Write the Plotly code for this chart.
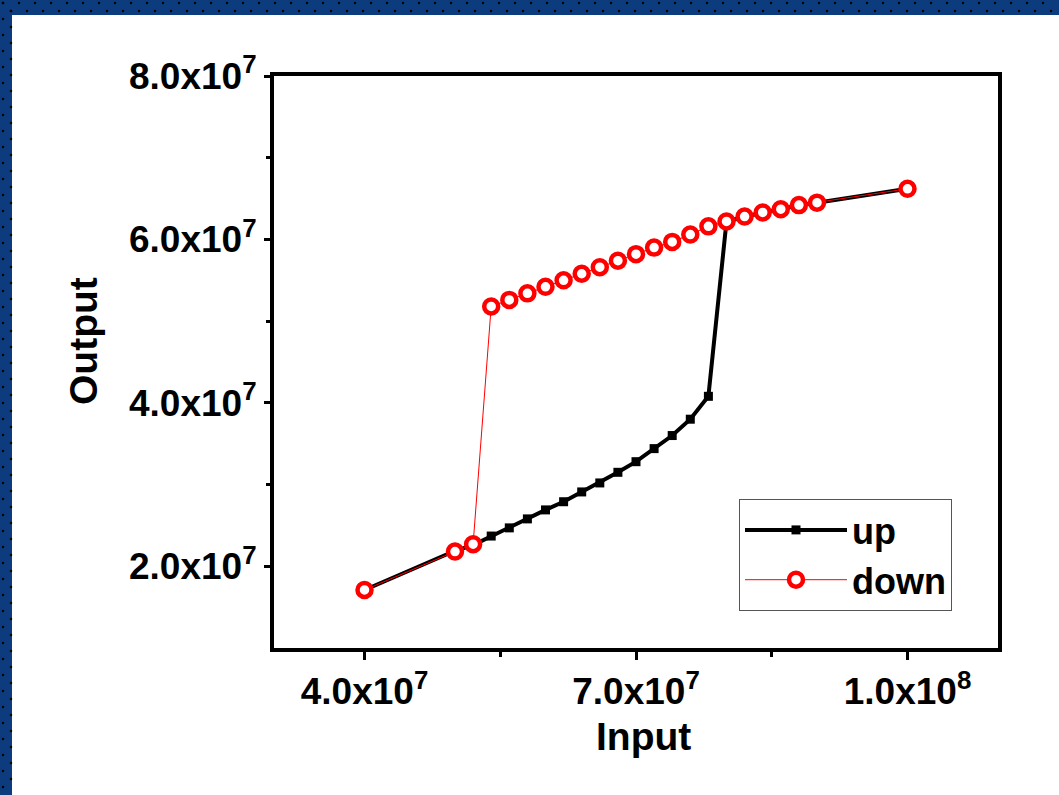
import numpy as np
import plotly.graph_objects as go

# ---------------- data ----------------
up_x = [4.0e7, 5.0e7, 5.2e7, 5.4e7, 5.6e7, 5.8e7, 6.0e7, 6.2e7, 6.4e7, 6.6e7, 6.8e7,
        7.0e7, 7.2e7, 7.4e7, 7.6e7, 7.8e7, 8.0e7, 8.2e7, 8.4e7, 8.6e7, 8.8e7, 9.0e7, 1.0e8]
up_y = [1.71e7, 2.19e7, 2.26e7, 2.37e7, 2.47e7, 2.58e7, 2.69e7, 2.79e7, 2.91e7, 3.02e7, 3.15e7,
        3.28e7, 3.44e7, 3.60e7, 3.80e7, 4.08e7, 6.22e7, 6.28e7, 6.33e7, 6.37e7, 6.42e7, 6.45e7, 6.62e7]

down_x = [1.0e8, 9.0e7, 8.8e7, 8.6e7, 8.4e7, 8.2e7, 8.0e7, 7.8e7, 7.6e7, 7.4e7, 7.2e7, 7.0e7,
          6.8e7, 6.6e7, 6.4e7, 6.2e7, 6.0e7, 5.8e7, 5.6e7, 5.4e7, 5.2e7, 5.0e7, 4.0e7]
down_y = [6.62e7, 6.45e7, 6.42e7, 6.37e7, 6.33e7, 6.28e7, 6.22e7, 6.16e7, 6.06e7, 5.97e7, 5.90e7, 5.82e7,
          5.74e7, 5.66e7, 5.58e7, 5.50e7, 5.42e7, 5.34e7, 5.26e7, 5.18e7, 2.27e7, 2.18e7, 1.71e7]

x_tickvals = [4.0e7, 7.0e7, 1.0e8]
x_ticktext = ["4.0x10<sup>7</sup>", "7.0x10<sup>7</sup>", "1.0x10<sup>8</sup>"]
x_minor = [5.5e7, 8.5e7]
y_tickvals = [2.0e7, 4.0e7, 6.0e7, 8.0e7]
y_ticktext = ["2.0x10<sup>7</sup>", "4.0x10<sup>7</sup>", "6.0x10<sup>7</sup>", "8.0x10<sup>7</sup>"]
y_minor = [3.0e7, 5.0e7, 7.0e7]

x_title = "Input"
y_title = "Output"

# ---------------- figure ----------------
W, H = 1059, 795
FONT = "Liberation Sans, Arial, sans-serif"
BLUE = "#0c3c7d"

fig = go.Figure()

fig.add_trace(go.Scatter(
    x=up_x, y=up_y, name="up", mode="lines+markers",
    line=dict(color="black", width=4),
    marker=dict(symbol="square", size=9, color="black"),
))
fig.add_trace(go.Scatter(
    x=down_x, y=down_y, name="down", mode="lines+markers",
    line=dict(color="red", width=1),
    marker=dict(symbol="circle", size=14, color="white", line=dict(color="red", width=4.5)),
))

# decorative dotted frame (background of the page)
dot_x, dot_y = [], []
for off in (3, 11):
    for xx in np.arange(off, W, 16):
        dot_x.append(xx); dot_y.append(off)
    for yy in np.arange(off, H, 16):
        dot_x.append(off); dot_y.append(yy)
fig.add_trace(go.Scatter(
    x=dot_x, y=dot_y, mode="markers", xaxis="x2", yaxis="y2",
    marker=dict(symbol="square", size=2.2, color="black", line=dict(width=0)),
    showlegend=False, hoverinfo="skip",
))

fig.add_shape(type="rect", xref="paper", yref="paper", x0=0, x1=1, y0=1 - 15 / H, y1=1,
              fillcolor=BLUE, line=dict(width=0), layer="below")
fig.add_shape(type="rect", xref="paper", yref="paper", x0=0, x1=12 / W, y0=0, y1=1,
              fillcolor=BLUE, line=dict(width=0), layer="below")

tickfont = dict(family=FONT, size=37, color="black", weight="bold")
titlefont = dict(family=FONT, size=39, color="black", weight="bold")

# axis titles placed as annotations (match reference position)
fig.add_annotation(text=x_title, xref="paper", yref="paper", x=643 / W, y=1 - 736 / H,
                   xanchor="center", yanchor="middle", showarrow=False, font=titlefont)
fig.add_annotation(text=y_title, xref="paper", yref="paper", x=83 / W, y=1 - 341 / H,
                   xanchor="center", yanchor="middle", showarrow=False, font=titlefont,
                   textangle=-90)

fig.update_layout(
    width=W, height=H,
    margin=dict(l=0, r=0, t=0, b=0),
    paper_bgcolor="white", plot_bgcolor="rgba(0,0,0,0)",
    showlegend=True,
    legend=dict(
        x=952 / W, y=1 - 499 / H, xanchor="right", yanchor="top",
        bgcolor="white", bordercolor="#555555", borderwidth=1,
        font=dict(family=FONT, size=36, color="black", weight="bold"),
        itemwidth=102, tracegroupgap=0, itemsizing="trace",
    ),
    xaxis=dict(
        domain=[274 / W, 998 / W], range=[3.0e7, 1.1e8], automargin=False,
        showgrid=False, zeroline=False,
        showline=True, linecolor="black", linewidth=4, mirror=True,
        ticks="outside", ticklen=8, tickwidth=3, tickcolor="black",
        tickmode="array", tickvals=x_tickvals, ticktext=x_ticktext, tickfont=tickfont,
        minor=dict(tickvals=x_minor, ticks="outside", ticklen=5, tickwidth=3, tickcolor="black"),
    ),
    yaxis=dict(
        domain=[1 - 648 / H, 1 - 76 / H], range=[1.0e7, 8.0e7], automargin=False,
        showgrid=False, zeroline=False,
        showline=True, linecolor="black", linewidth=4, mirror=True,
        ticks="outside", ticklen=6, tickwidth=3, tickcolor="black",
        tickmode="array", tickvals=y_tickvals, ticktext=y_ticktext, tickfont=tickfont,
        minor=dict(tickvals=y_minor, ticks="outside", ticklen=4, tickwidth=3, tickcolor="black"),
    ),
    xaxis2=dict(domain=[0, 1], range=[0, W], visible=False, fixedrange=True),
    yaxis2=dict(domain=[0, 1], range=[H, 0], visible=False, fixedrange=True),
)

fig.write_html("out.html", config={"displayModeBar": False},
               post_script="document.body.style.margin='0px';")
